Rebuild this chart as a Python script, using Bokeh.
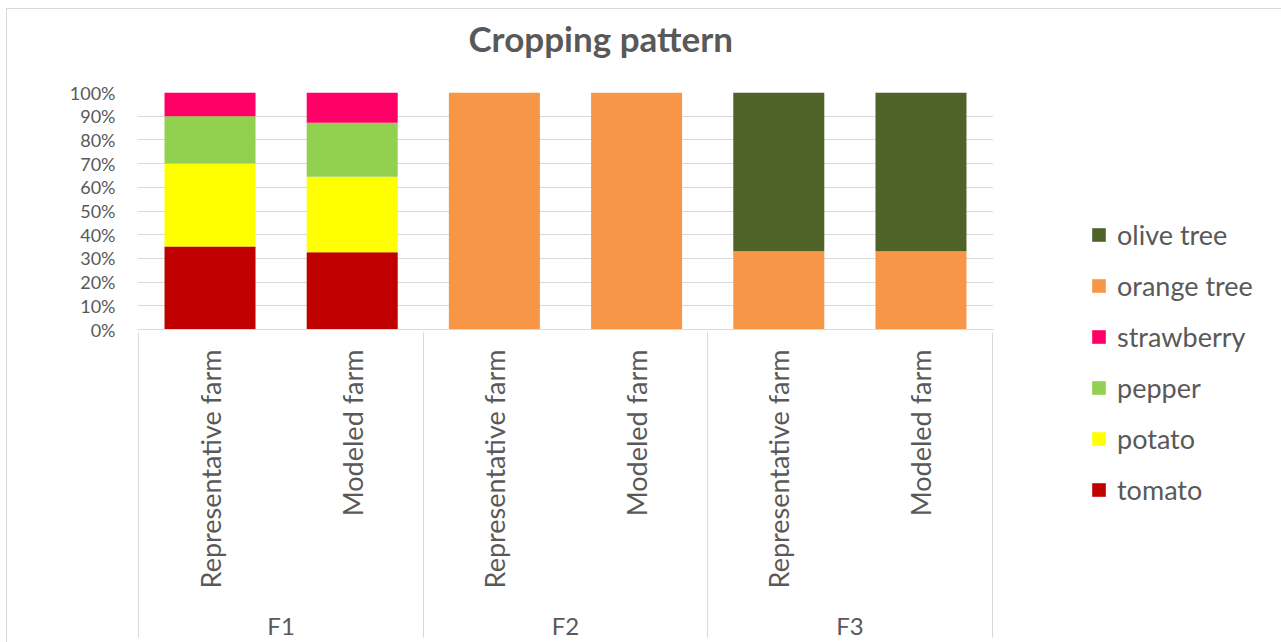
import math
from bokeh.plotting import figure
from bokeh.layouts import row
from bokeh.models import (ColumnDataSource, FactorRange, Legend, LegendItem,
                          NumeralTickFormatter, FixedTicker, Title)
from bokeh.embed import file_html
from bokeh.resources import INLINE

# ---- data ----
farms = ["F1", "F2", "F3"]
scenarios = ["Representative farm", "Modeled farm"]
tomato = [0.35, 0.326, 0.0, 0.0, 0.0, 0.0]
potato = [0.35, 0.318, 0.0, 0.0, 0.0, 0.0]
pepper = [0.20, 0.228, 0.0, 0.0, 0.0, 0.0]
strawberry = [0.10, 0.128, 0.0, 0.0, 0.0, 0.0]
orange_tree = [0.0, 0.0, 1.0, 1.0, 0.33, 0.33]
olive_tree = [0.0, 0.0, 0.0, 0.0, 0.67, 0.67]
crops = ["tomato", "potato", "pepper", "strawberry", "orange tree", "olive tree"]
colors = ["#C00000", "#FFFF00", "#92D050", "#FF0066", "#F79646", "#4F6228"]
y_ticks = [0.0, 0.1, 0.2, 0.3, 0.4, 0.5, 0.6, 0.7, 0.8, 0.9, 1.0]
chart_title = "Cropping pattern"

x = [(f, s) for f in farms for s in scenarios]
keys = ["tomato", "potato", "pepper", "strawberry", "orange_tree", "olive_tree"]
source = ColumnDataSource(data=dict(x=x, tomato=tomato, potato=potato, pepper=pepper,
                                    strawberry=strawberry, orange_tree=orange_tree,
                                    olive_tree=olive_tree))

# blank padding factors so that the axis draws separators at both ends
factors = [(" ", " ")] + x + [("  ", " ")]
xr = FactorRange(factors=factors, group_padding=0, factor_padding=0,
                 range_padding=-0.99, range_padding_units="absolute")

FONT = "Lato"
GREY = "#595959"
LINE = "#D9D9D9"

p = figure(width=994, height=634, x_range=xr, y_range=(0, 1),
           output_backend="svg", toolbar_location=None,
           min_border_left=130, min_border_right=8, min_border_top=83,
           min_border_bottom=314,
           styles={"border-top": "1px solid #D9D9D9", "border-left": "1px solid #D9D9D9",
                   "box-sizing": "border-box"})

rs = p.vbar_stack(keys, x="x", width=0.64, source=source, color=colors,
                  line_color=None)

# spacer (closest to the frame) and the real title above it
spacer = Title(text=" ", text_font=FONT, text_font_size="10px", standoff=15)
title = Title(text=chart_title, text_font=FONT, text_font_size="35px",
              text_font_style="bold", text_color=GREY, align="left",
              offset=331, standoff=10)
p.add_layout(spacer, "above")
p.add_layout(title, "above")

p.outline_line_color = None
p.xgrid.grid_line_color = None
p.ygrid.grid_line_color = LINE
p.ygrid.ticker = FixedTicker(ticks=y_ticks)

ya = p.yaxis[0]
ya.ticker = FixedTicker(ticks=y_ticks)
ya.formatter = NumeralTickFormatter(format="0%")
ya.axis_line_color = None
ya.major_tick_line_color = None
ya.minor_tick_line_color = None
ya.major_tick_out = 0
ya.major_label_standoff = 22
ya.major_label_text_font = FONT
ya.major_label_text_font_size = "18px"
ya.major_label_text_color = GREY

xa = p.xaxis[0]
xa.axis_line_color = LINE
xa.major_tick_line_color = None
xa.minor_tick_line_color = None
xa.major_tick_out = 0
xa.major_label_orientation = math.pi / 2
xa.major_label_standoff = 20
xa.major_label_text_font = FONT
xa.major_label_text_font_size = "27px"
xa.major_label_text_color = GREY
xa.group_text_font = FONT
xa.group_text_font_size = "24px"
xa.group_text_font_style = "normal"
xa.group_text_color = GREY
xa.separator_line_color = LINE
xa.separator_line_width = 1

# legend panel to the right of the plot area
lp = figure(width=281, height=634, output_backend="svg", toolbar_location=None,
            x_axis_location=None, y_axis_location=None, min_border=0,
            styles={"border-top": "1px solid #D9D9D9", "box-sizing": "border-box"})
if "frame_align" in lp.properties():
    lp.frame_align = False
lp.outline_line_color = None
lp.grid.visible = False
swatches = [lp.vbar(x=[0], top=[0], bottom=[0], width=0.5, fill_color=c, line_color=None)
            for c in colors]

items = [LegendItem(label=crops[i], renderers=[swatches[i]]) for i in reversed(range(len(crops)))]
legend = Legend(items=items, location=(90, 137), orientation="vertical",
                glyph_width=17, glyph_height=17, label_standoff=10,
                label_text_font=FONT, label_text_font_size="27px",
                label_text_color=GREY, spacing=18, padding=0, margin=0,
                border_line_color=None, background_fill_color=None)
lp.add_layout(legend, "center")

layout = row(p, lp, styles={"margin-left": "6px", "margin-top": "8px"})

open("out.html", "w").write(file_html(layout, INLINE))
